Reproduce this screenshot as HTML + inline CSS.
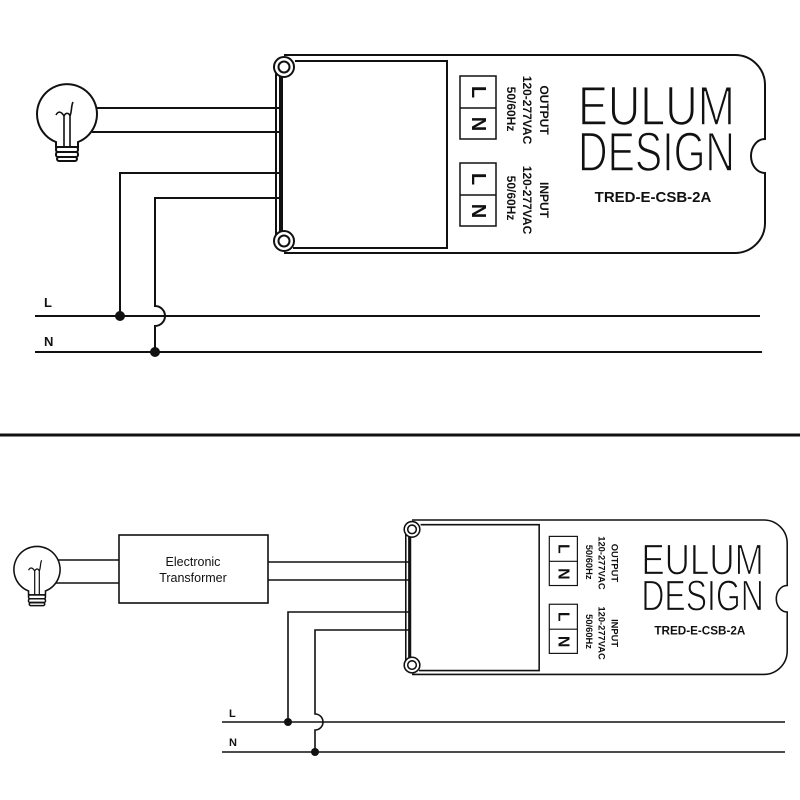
<!DOCTYPE html>
<html><head><meta charset="utf-8"><style>
html,body{margin:0;padding:0;background:#fff}
svg{display:block}
text{font-family:"Liberation Sans",Arial,sans-serif;fill:#111}
</style></head><body>
<svg width="800" height="800" viewBox="0 0 800 800" xmlns="http://www.w3.org/2000/svg">
<defs>
<g id="lamp" fill="none" stroke="#111" stroke-width="2">
  <path d="M-11,26 A30,30 0 1 1 11,26 L11,31 L-11,31 Z" fill="#fff"/>
  <rect x="-11" y="31" width="22" height="5" rx="2"/>
  <rect x="-11" y="36" width="22" height="5" rx="2"/>
  <rect x="-10" y="41" width="20" height="4" rx="2"/>
  <path d="M-3,31 L-3,0 M3,31 L3,0 M-3,0 C-6,-5 -9,-5 -11,-1 M-3,0 C-1,-4 2,-3 3,0 M3,0 C5,-5 4,-10 6,-14" stroke-width="1.6"/>
</g>
<g id="dev">
  <path d="M9,0 L460,0 A30,30 0 0 1 490,30 L490,84 A14,17 0 0 0 490,118 L490,168 A30,30 0 0 1 460,198 L9,198" fill="#fff" stroke="#111" stroke-width="2"/>
  <line x1="1" y1="12" x2="1" y2="187" stroke="#111" stroke-width="2"/>
  <path d="M5,20 L5,180 M20,6 L172,6 L172,193 L18,193 M7,21 L7,176" fill="none" stroke="#111" stroke-width="2"/>
  <circle cx="9" cy="12" r="10" fill="#fff" stroke="#111" stroke-width="2"/>
  <circle cx="9" cy="12" r="5.5" fill="#fff" stroke="#111" stroke-width="2"/>
  <circle cx="9" cy="186" r="10" fill="#fff" stroke="#111" stroke-width="2"/>
  <circle cx="9" cy="186" r="5.5" fill="#fff" stroke="#111" stroke-width="2"/>
  <g fill="none" stroke="#111" stroke-width="1.5">
    <rect x="185" y="21" width="36" height="63"/><line x1="185" y1="53" x2="221" y2="53"/>
    <rect x="185" y="108" width="36" height="63"/><line x1="185" y1="140" x2="221" y2="140"/>
  </g>
  <g font-weight="bold" font-size="20" text-anchor="middle">
    <text transform="translate(197,37) rotate(90)">L</text>
    <text transform="translate(197,69) rotate(90)">N</text>
    <text transform="translate(197,124) rotate(90)">L</text>
    <text transform="translate(197,156) rotate(90)">N</text>
  </g>
  <g font-size="12" font-weight="bold" text-anchor="middle">
    <text transform="translate(265,55) rotate(90)">OUTPUT</text>
    <text transform="translate(248,55) rotate(90)">120-277VAC</text>
    <text transform="translate(232,54) rotate(90)">50/60Hz</text>
    <text transform="translate(265,145) rotate(90)">INPUT</text>
    <text transform="translate(248,145) rotate(90)">120-277VAC</text>
    <text transform="translate(232,143) rotate(90)">50/60Hz</text>
  </g>
  <g stroke="#fff" stroke-width="1.6">
    <text x="303" y="70" font-size="56" textLength="157" lengthAdjust="spacingAndGlyphs">EULUM</text>
    <text x="303" y="116" font-size="56" textLength="157" lengthAdjust="spacingAndGlyphs">DESIGN</text>
  </g>
  <text x="378" y="147" font-size="15" font-weight="bold" text-anchor="middle">TRED-E-CSB-2A</text>
</g>
</defs>

<g stroke="#111" stroke-width="2" fill="none">
  <line x1="96" y1="108" x2="281" y2="108"/>
  <line x1="92" y1="132" x2="281" y2="132"/>
  <path d="M281,173 L120,173 L120,316"/>
  <path d="M281,198 L155,198 L155,306 A5,5 0 0 1 155,326 L155,352"/>
  <line x1="35" y1="316" x2="760" y2="316"/>
  <line x1="35" y1="352" x2="762" y2="352"/>
</g>
<circle cx="120" cy="316" r="5" fill="#111"/>
<circle cx="155" cy="352" r="5" fill="#111"/>
<text x="44" y="307" font-size="13" font-weight="bold">L</text>
<text x="44" y="346" font-size="13" font-weight="bold">N</text>
<use href="#lamp" transform="translate(67,116)"/>
<use href="#dev" transform="translate(275,55)"/>

<line x1="0" y1="435" x2="800" y2="435" stroke="#111" stroke-width="3"/>

<g stroke="#111" stroke-width="1.6" fill="none">
  <line x1="58" y1="560" x2="119" y2="560"/>
  <line x1="55" y1="583" x2="119" y2="583"/>
  <rect x="119" y="535" width="149" height="68"/>
  <line x1="268" y1="562" x2="410" y2="562"/>
  <line x1="268" y1="580" x2="410" y2="580"/>
  <path d="M410,612 L288,612 L288,722"/>
  <path d="M410,630 L315,630 L315,714 A4,4 0 0 1 315,730 L315,752"/>
  <line x1="222" y1="722" x2="785" y2="722"/>
  <line x1="222" y1="752" x2="785" y2="752"/>
</g>
<circle cx="288" cy="722" r="4" fill="#111"/>
<circle cx="315" cy="752" r="4" fill="#111"/>
<text x="229" y="717" font-size="11" font-weight="bold">L</text>
<text x="229" y="746" font-size="11" font-weight="bold">N</text>
<text x="193" y="566" font-size="12.5" text-anchor="middle">Electronic</text>
<text x="193" y="582" font-size="12.5" text-anchor="middle">Transformer</text>
<use href="#lamp" transform="translate(37,571) scale(0.77)"/>
<use href="#dev" transform="translate(405,520) scale(0.78)"/>
</svg>
</body></html>
